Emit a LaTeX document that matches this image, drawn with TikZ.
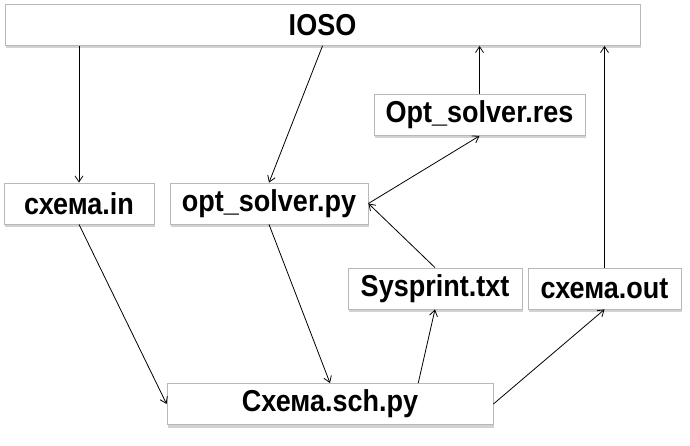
\documentclass[tikz,border=0pt]{standalone}
\usepackage{fontspec}
\setmainfont{Liberation Sans}
\usetikzlibrary{arrows.meta,calc,shadows}
\newcommand{\ftext}[1]{\scalebox{1}[1.12]{#1}}

\begin{document}
\begin{tikzpicture}[
  x=1pt, y=-1pt,
  file/.style={
    rectangle, draw=black!28, fill=white, line width=0.8pt,
    drop shadow={shadow xshift=0.8pt, shadow yshift=-3pt, fill=black!35},
    minimum height=41pt, inner sep=0pt,
    font=\fontsize{27}{30}\selectfont\bfseries},
  arr/.style={-{Straight Barb[length=6pt,width=8pt]}, line width=0.8pt},
]
  \useasboundingbox (0,0) rectangle (690,446);

  \node[file, minimum width=635pt] (ioso)  at (322.5,25)  {\ftext{IOSO}};
  \node[file, minimum width=150pt] (schin) at (79,203.5)  {\ftext{схема.in}};
  \node[file, minimum width=198pt] (py)    at (269,203.5) {\ftext{opt\_solver.py}};
  \node[file, minimum width=211pt] (res)   at (479.5,115) {\ftext{Opt\_solver.res}};
  \node[file, minimum width=174pt] (sys)   at (435,288.5) {\ftext{Sysprint.txt}};
  \node[file, minimum width=153pt] (out)   at (604.5,288.5) {\ftext{схема.out}};
  \node[file, minimum width=326pt] (sch)   at (330,404)   {\ftext{Схема.sch.py}};

  \draw[arr] (ioso.south -| schin.north) -- (schin.north);
  \draw[arr] (ioso.south) -- (py.north);
  \draw[arr] (py.east) -- (res.south);
  \draw[arr] (res.north) -- (res.north |- ioso.south);
  \draw[arr] (out.north) -- (out.north |- ioso.south);
  \draw[arr] (schin.south) -- (sch.west);
  \draw[arr] (py.south) -- (sch.north);
  \draw[arr] ($(sch.north west)!0.77!(sch.north east)$) -- (sys.south);
  \draw[arr] (sch.east) -- (out.south);
  \draw[arr] (sys.north) -- (py.east);
\end{tikzpicture}
\end{document}
